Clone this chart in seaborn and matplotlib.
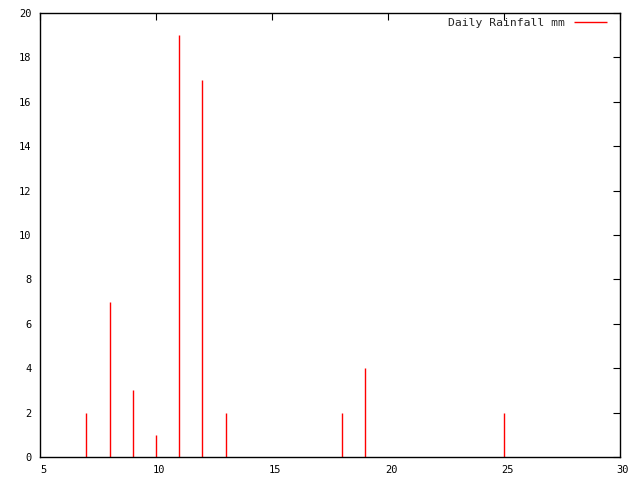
import numpy as np
import matplotlib
matplotlib.use('Agg')
import matplotlib.pyplot as plt
import matplotlib.transforms as mtransforms
import seaborn as sns

# data
days = [7, 8, 9, 10, 11, 12, 13, 18, 19, 25]
rainfall = [2, 7, 3, 1, 19, 17, 2, 2, 4, 2]
x_ticks = [5, 10, 15, 20, 25, 30]
y_ticks = list(range(0, 21, 2))

sns.set_style('white')
plt.rcParams['font.family'] = ['DejaVu Sans Mono']

fig = plt.figure(figsize=(6.4, 4.8), dpi=100)
ax = fig.add_axes([40 / 640, 23 / 480, 580 / 640, 444 / 480])

ax.vlines(days, 0, rainfall, color='red', linewidth=1, label='Daily Rainfall mm')

ax.set_xlim(5, 30)
ax.set_ylim(0, 20)
ax.set_xticks(x_ticks)
ax.set_yticks(y_ticks)
ax.tick_params(direction='in', length=5, width=0.8, labelsize=7.5,
               top=True, right=True, colors='black', pad=6)
for s in ax.spines.values():
    s.set_visible(True)
    s.set_color('black')
    s.set_linewidth(1)

# gnuplot puts the x labels a few pixels right of the ticks
shift = mtransforms.ScaledTranslation(3 / 100, 0, fig.dpi_scale_trans)
for lab in ax.get_xticklabels():
    lab.set_transform(lab.get_transform() + shift)

ax.legend(loc='upper right', bbox_to_anchor=(611.5 / 640, 467 / 480),
          bbox_transform=fig.transFigure, borderaxespad=0,
          frameon=False, fontsize=8.2, markerfirst=False,
          handlelength=2.9, handletextpad=0.8)

fig.savefig('out.png', dpi=100)
